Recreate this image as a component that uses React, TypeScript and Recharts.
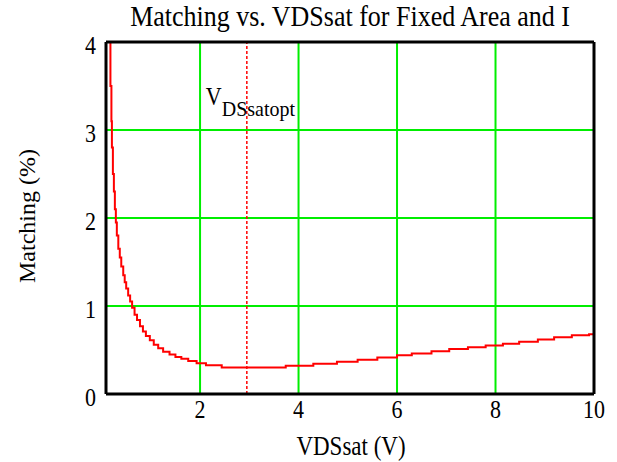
import { CartesianGrid, Line, LineChart, ReferenceLine, XAxis, YAxis } from "recharts";

// Step corners of the matching curve (value holds until the next x)
const VDSSAT = [
  0.165, 0.18, 0.2, 0.21, 0.23, 0.25, 0.27, 0.29, 0.31, 0.34, 0.37, 0.4, 0.44, 0.47, 0.5, 0.54, 0.58,
  0.62, 0.67, 0.72, 0.78, 0.84, 0.9, 0.98, 1.06, 1.15, 1.25, 1.38, 1.5, 1.62, 1.76, 1.93, 2.12, 2.44,
  3.74, 4.3, 4.78, 5.2, 5.6, 6.0, 6.3, 6.7, 7.06, 7.44, 7.8, 8.15, 8.48, 8.86, 9.19, 9.55, 9.9, 10,
];
const MATCHING = [
  4.3, 3.5, 3.1, 2.8, 2.5, 2.3, 2.1, 1.95, 1.8, 1.65, 1.55, 1.45, 1.35, 1.27, 1.2, 1.12, 1.05,
  0.98, 0.9, 0.84, 0.77, 0.71, 0.66, 0.61, 0.56, 0.52, 0.48, 0.45, 0.42, 0.4, 0.375, 0.35, 0.326, 0.3,
  0.32, 0.345, 0.367, 0.39, 0.415, 0.44, 0.46, 0.485, 0.51, 0.53, 0.55, 0.57, 0.594, 0.62, 0.644, 0.667, 0.68, 0.69,
];
const X_TICKS = [2, 4, 6, 8, 10];
const Y_TICKS = [0, 1, 2, 3, 4];
const VDSSAT_OPT = 2.95;

const rows = VDSSAT.map((x, i) => ({ x, y: MATCHING[i] }));

const FONT = "Liberation Serif, DejaVu Serif, serif";
const SY = 1.15; // reference text is a bit taller than wide

// text drawn at (x, y) with a vertical stretch
function Tall({ x, y, size, anchor = "middle", sy = SY, children }: any) {
  return (
    <g transform={`translate(${x},${y}) scale(1,${sy})`}>
      <text x={0} y={0} textAnchor={anchor} fontFamily={FONT} fontSize={size} fill="#000">
        {children}
      </text>
    </g>
  );
}

function XTick({ x, y, payload }: any) {
  return <Tall x={x} y={y + 24} size={22}>{payload.value}</Tall>;
}

function YTick({ x, y, payload }: any) {
  return <Tall x={x} y={y + 12} size={22} anchor="end">{payload.value}</Tall>;
}

function OptLabel({ viewBox }: any) {
  const x = (viewBox?.x ?? 0) - 41;
  return (
    <g transform={`translate(${x},105) scale(1,1.1)`}>
      <text x={0} y={0} fontFamily={FONT} fill="#000">
        <tspan fontSize={22}>V</tspan>
        <tspan fontSize={20} dy={10}>DSsatopt</tspan>
      </text>
    </g>
  );
}

export default function App() {
  return (
    <div style={{ position: "absolute", left: 0, top: 0, width: 617, height: 462, background: "#fff" }}>
      <LineChart
        width={617}
        height={462}
        data={rows}
        margin={{ top: 42, right: 23, bottom: 18, left: 46 }}
      >
        <Tall x={350} y={26} size={26}>Matching vs. VDSsat for Fixed Area and I</Tall>
        <Tall x={351} y={455} size={23}>VDSsat (V)</Tall>
        <g transform="translate(27,216) rotate(-90)">
          <text x={0} y={0} textAnchor="middle" dominantBaseline="central" fontFamily={FONT} fontSize={24} fill="#000">
            Matching (%)
          </text>
        </g>
        <CartesianGrid stroke="#00ee00" strokeWidth={2} />
        <XAxis
          dataKey="x"
          type="number"
          domain={[0.09, 10]}
          ticks={X_TICKS}
          allowDataOverflow
          height={50}
          tickLine={false}
          tickSize={0}
          tickMargin={0}
          axisLine={{ stroke: "#000", strokeWidth: 3 }}
          tick={<XTick />}
        />
        <YAxis
          type="number"
          domain={[0, 4]}
          ticks={Y_TICKS}
          allowDataOverflow
          width={60}
          tickLine={false}
          tickSize={0}
          tickMargin={10}
          axisLine={{ stroke: "#000", strokeWidth: 3 }}
          tick={<YTick />}
        />
        <ReferenceLine x={VDSSAT_OPT} stroke="#ff0000" strokeWidth={1.5} strokeDasharray="3 2" label={<OptLabel />} />
        <Line
          dataKey="y"
          type="stepAfter"
          stroke="#ff0000"
          strokeWidth={2}
          dot={false}
          isAnimationActive={false}
        />
        <ReferenceLine y={4} stroke="#000" strokeWidth={3} />
        <ReferenceLine x={10} stroke="#000" strokeWidth={3} />
      </LineChart>
    </div>
  );
}
